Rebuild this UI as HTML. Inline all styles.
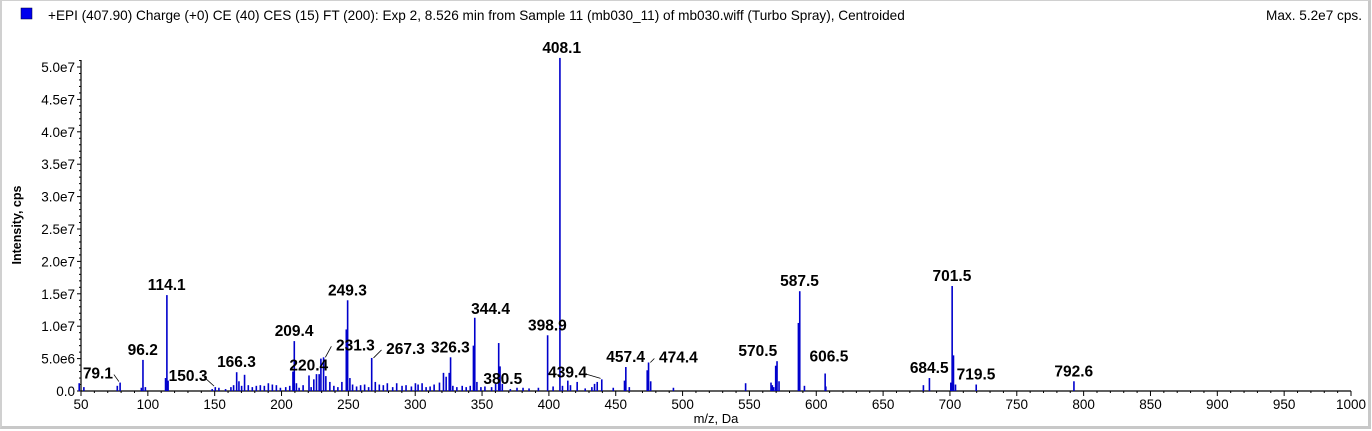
<!DOCTYPE html>
<html><head><meta charset="utf-8">
<style>
html,body{margin:0;padding:0;background:#fff;}
body{width:1372px;height:431px;overflow:hidden;position:relative;font-family:"Liberation Sans",Arial,sans-serif;}
#frame{position:absolute;left:0;top:0;width:1366px;height:425px;border-right:3px solid #c8c8c8;border-bottom:3px solid #c8c8c8;border-left:2px solid #d0d0d0;border-top:1px solid #d0d0d0;box-sizing:content-box;}
</style></head>
<body>
<div id="frame"></div>
<svg id="chart" width="1372" height="431" style="position:absolute;left:0;top:0" xmlns="http://www.w3.org/2000/svg">
  <rect x="21" y="8" width="11" height="11" fill="#0000ee" stroke="#000033" stroke-width="0.5"/>
  <text x="48" y="20" font-size="13.6" fill="#000">+EPI (407.90) Charge (+0) CE (40) CES (15) FT (200): Exp 2, 8.526 min from Sample 11 (mb030_11) of mb030.wiff (Turbo Spray), Centroided</text>
  <text x="1362" y="20" font-size="13.6" text-anchor="end" fill="#000">Max. 5.2e7 cps.</text>
  <text transform="translate(21,225) rotate(-90)" font-size="12.5" font-weight="bold" text-anchor="middle">Intensity, cps</text>
  <text x="716" y="423" font-size="13" text-anchor="middle">m/z, Da</text>
  <g id="axes"></g>
  <g id="bars"></g>
  <g id="labels"></g>
</svg>
<script>
// data
const majorMz = [408.1,114.1,249.3,248.3,701.5,702.5,587.5,586.5,344.4,343.4,398.9,209.4,208.4,96.2,362.3,363.3,570.5,569.5,606.5,457.4,456.4,474.4,473.4,267.3,231.3,229.3,326.3,325.3,166.3,172.2,220.4,684.5,719.5,792.6,79.1,150.3,380.5,439.4,113.1,48.5,700.5];
const majorInt = [51.4,14.8,14.0,9.5,16.2,5.5,15.4,10.5,11.3,7.0,8.6,7.7,3.0,4.8,7.4,3.8,4.6,3.9,2.7,3.7,1.6,4.4,3.2,5.1,5.2,5.0,5.2,2.8,2.9,2.5,2.4,2.0,1.0,1.5,1.3,0.6,0.5,1.8,2.0,1.2,1.3];
const minorMz = [52,77,95,98,115,148,153,158,162,164,168,170,175,178,181,184,187,190,193,196,199,203,206,211,213,216,222,224,226,228,233,236,239,242,245,251,253,256,259,262,265,270,273,276,279,283,286,290,293,297,300,302,305,308,311,314,318,321,323,328,331,335,338,341,346,349,352,357,360,365,371,376,385,392,403,410,414,416,421,427,432,434,436,448,460,476,493,547,566,567,568,572,591,607,680,704];
const minorInt = [0.6,0.8,0.5,0.6,1.6,0.3,0.5,0.3,0.6,0.9,1.5,0.8,0.9,0.6,0.8,0.9,0.8,1.2,1.0,0.9,0.5,0.6,0.8,1.2,0.5,0.9,0.6,1.8,2.6,2.6,2.3,1.4,0.8,0.6,1.4,2.0,1.0,0.7,0.9,1.0,0.6,1.4,1.0,0.9,1.2,0.6,1.2,0.8,0.9,0.7,1.2,1.0,1.2,0.6,0.7,1.0,1.3,2.8,2.2,0.8,0.6,0.8,0.6,0.8,1.4,0.6,0.7,0.6,1.1,1.1,0.3,0.5,0.4,0.5,0.7,0.8,1.6,0.9,1.4,0.4,0.6,1.1,1.4,0.5,0.6,1.5,0.5,1.2,1.3,0.9,0.6,1.5,0.8,0.7,0.9,1.0];
const labelText = ["408.1","114.1","249.3","701.5","587.5","344.4","398.9","209.4","96.2","570.5","606.5","457.4","474.4","267.3","231.3","326.3","166.3","220.4","684.5","719.5","792.6","79.1","150.3","380.5","439.4"];
const labelMz = [408.1,114.1,249.3,701.5,587.5,344.4,398.9,209.4,96.2,570.5,606.5,457.4,474.4,267.3,231.3,326.3,166.3,220.4,684.5,719.5,792.6,79.1,150.3,380.5,439.4];
const labelInt = [51.4,14.8,14.0,16.2,15.4,11.3,8.6,7.7,4.8,4.6,2.7,3.7,4.4,5.1,5.2,5.2,2.9,2.4,2.0,1.0,1.5,1.3,0.6,0.5,1.8];
const xTicks = [50,100,150,200,250,300,350,400,450,500,550,600,650,700,750,800,850,900,950,1000];
const yTicks = [0,5,10,15,20,25,30,35,40,45,50];
const yTickLabels = ["0.0","5.0e6","1.0e7","1.5e7","2.0e7","2.5e7","3.0e7","3.5e7","4.0e7","4.5e7","5.0e7"];
// label offsets (px) & leader flags keyed by label index
const labelOffsets = {0:[2,-5],5:[16,-4],9:[-19,-5],10:[4,-12],13:[34,-4,1],14:[32,-7,1],21:[-22,-4,1],22:[-27,-6,1],23:[-20,-4],24:[-34,-2,1],12:[30,0,1]};

const NS="http://www.w3.org/2000/svg";
const X0=81,X1=1351,Y0=391,Y1=67;
const x=m=>X0+(m-50)*(X1-X0)/950;
const y=v=>Y0-v*(Y0-Y1)/50;
function mk(tag,attrs,parent){const e=document.createElementNS(NS,tag);for(const k in attrs)e.setAttribute(k,attrs[k]);parent.appendChild(e);return e;}
const axes=document.getElementById('axes'),bars=document.getElementById('bars'),labels=document.getElementById('labels');

let l=mk('line',{x1:X0,y1:Y0,x2:X1,y2:Y0,stroke:'#000','stroke-width':1.2},axes);


l=mk('line',{x1:X0,y1:Y0,x2:X0,y2:60,stroke:'#000','stroke-width':1.2},axes);


for(let m=50;m<=1000;m+=10){mk('line',{x1:x(m),y1:Y0,x2:x(m),y2:Y0+(m%50===0?5:2),stroke:'#000','stroke-width':1},axes);}
xTicks.forEach(t=>{const e=mk('text',{x:x(t),y:409,'font-size':13.5,'text-anchor':'middle'},axes);e.textContent=t;

});
for(let v=0;v<=51;v+=1){mk('line',{x1:X0,y1:y(v),x2:X0-(v%5===0?4:2),y2:y(v),stroke:'#000','stroke-width':1},axes);}
yTicks.forEach((t,i)=>{const e=mk('text',{x:75,y:y(t)+5,'font-size':13.5,'text-anchor':'end'},axes);e.textContent=yTickLabels[i];

});

function bar(m,v){const b=mk('rect',{x:x(m)-0.6,y:y(v),width:1.6,height:Math.max(0.5,Y0-y(v)),fill:'#0000cc'},bars);

}
minorMz.forEach((m,i)=>bar(m,minorInt[i]));
majorMz.forEach((m,i)=>bar(m,majorInt[i]));

labelText.forEach((t,i)=>{const o=labelOffsets[i]||[0,-5];const px=x(labelMz[i]),py=y(labelInt[i]);
const e=mk('text',{x:px+o[0],y:py+o[1],'font-size':15.5,'font-weight':'bold','text-anchor':'middle'},labels);e.textContent=t;


if(o[2]){const lx=o[0]<0?px+o[0]+16:px+o[0]-24;const ln=mk('line',{x1:lx,y1:py+o[1]-4,x2:px+(o[0]<0?-1:2),y2:py+(o[0]<0?-1:0),stroke:'#000','stroke-width':0.8},labels);

}
});
</script>
</body></html>
